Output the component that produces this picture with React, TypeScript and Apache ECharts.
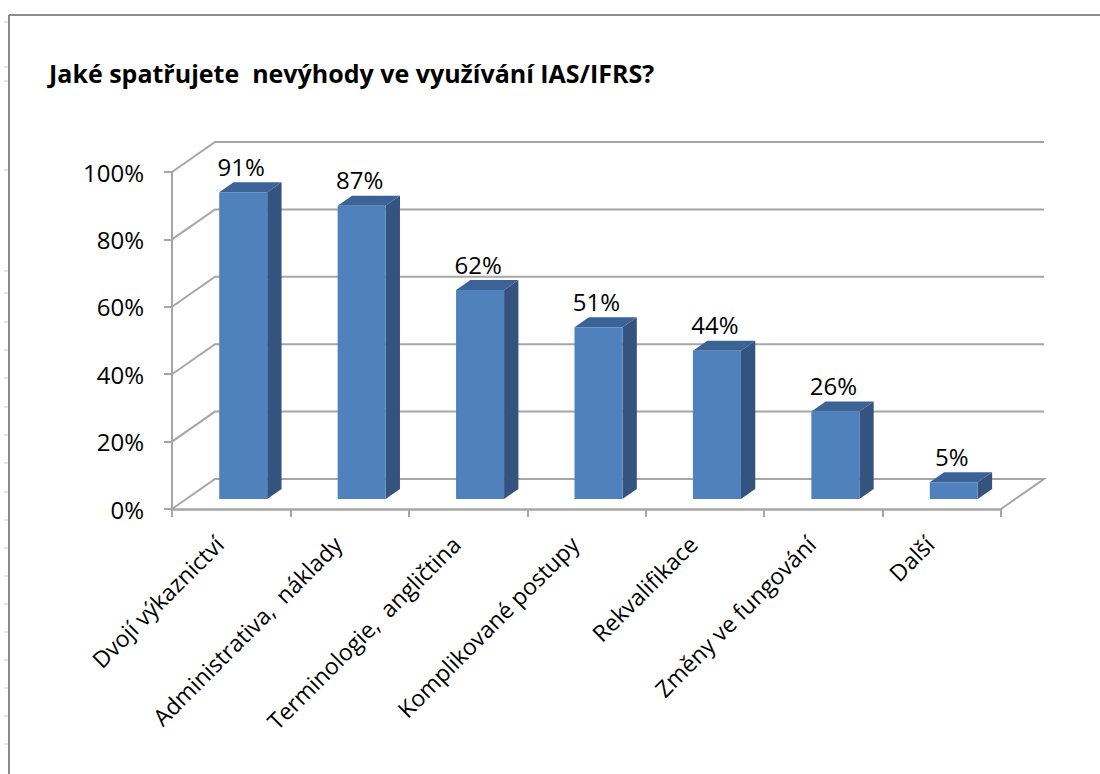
import React, { useEffect, useRef } from "react";
import * as echarts from "echarts";

const titleText = "Jaké spatřujete  nevýhody ve využívání IAS/IFRS?";
const categories = [
  "Dvojí výkaznictví",
  "Administrativa,  náklady",
  "Terminologie,  angličtina",
  "Komplikované postupy",
  "Rekvalifikace",
  "Změny ve fungování",
  "Další",
];
const values = [91, 87, 62, 51, 44, 26, 5];
const yTicks = [0, 20, 40, 60, 80, 100];

const FONT = "Open Sans";
const DEPTH_X = 43;
const DEPTH_Y = -30;
const GRID_COLOR = "#a6a6a6";

export default function App() {
  const ref = useRef<HTMLDivElement>(null);
  useEffect(() => {
    if (!ref.current) return;
    const chart = echarts.init(ref.current, undefined, { renderer: "svg" });
    const option: any = {
      animation: false,
      backgroundColor: "#ffffff",
      title: {
        text: titleText,
        left: 44,
        top: 55,
        textStyle: { fontFamily: FONT, fontWeight: "bold", fontSize: 25, color: "#000" },
      },
      grid: { left: 172, right: 99, top: 172, bottom: 265, containLabel: false },
      xAxis: {
        type: "category",
        data: categories,
        boundaryGap: true,
        axisLine: { show: true, lineStyle: { color: GRID_COLOR, width: 2.5 } },
        axisTick: { show: true, length: 8, lineStyle: { color: GRID_COLOR, width: 2 } },
        axisLabel: {
          rotate: 45,
          margin: 19,
          padding: [0, 17, 0, 0],
          interval: 0,
          fontFamily: FONT,
          fontSize: 23,
          color: "#000",
        },
        splitLine: { show: false },
      },
      yAxis: {
        type: "value",
        min: 0,
        max: 100,
        interval: 20,
        axisLine: { show: true, lineStyle: { color: GRID_COLOR, width: 2 } },
        axisTick: { show: true, length: 8, lineStyle: { color: GRID_COLOR, width: 2 } },
        axisLabel: {
          formatter: "{value}%",
          margin: 28,
          fontFamily: FONT,
          fontSize: 24,
          color: "#000",
        },
        splitLine: { show: false },
      },
      series: [
        {
          type: "custom",
          z: 1,
          silent: true,
          data: yTicks.map((v) => [0, v]),
          renderItem: (params: any, api: any) => {
            const v = api.value(1);
            const p = api.coord([0, v]);
            const cs = params.coordSys;
            const left = cs.x;
            const right = cs.x + cs.width;
            const y = p[1];
            const pts: number[][] = [
              [left, y],
              [left + DEPTH_X, y + DEPTH_Y],
              [right + DEPTH_X, y + DEPTH_Y],
            ];
            if (v === 0) pts.push([right, y]);
            return {
              type: "polyline",
              shape: { points: pts },
              style: { stroke: GRID_COLOR, lineWidth: 2, fill: "none" },
            };
          },
        },
        {
          type: "custom",
          z: 3,
          silent: true,
          data: values.map((v, i) => [i, v]),
          renderItem: (params: any, api: any) => {
            const idx = api.value(0);
            const v = api.value(1);
            const base = api.coord([idx, 0]);
            const top = api.coord([idx, v]);
            const offX = DEPTH_X / 3;
            const offY = DEPTH_Y / 3;
            const w = 48;
            const cx = base[0] + 12;
            const x0 = cx - w / 2;
            const x1 = cx + w / 2;
            const yb = base[1] + offY;
            const yt = top[1] + offY;
            return {
              type: "group",
              children: [
                {
                  type: "polygon",
                  shape: {
                    points: [
                      [x1, yb],
                      [x1, yt],
                      [x1 + offX, yt + offY],
                      [x1 + offX, yb + offY],
                    ],
                  },
                  style: { fill: "#34547f" },
                },
                {
                  type: "polygon",
                  shape: {
                    points: [
                      [x0, yt],
                      [x1, yt],
                      [x1 + offX, yt + offY],
                      [x0 + offX, yt + offY],
                    ],
                  },
                  style: { fill: "#3c6396" },
                },
                {
                  type: "rect",
                  shape: { x: x0, y: yt, width: w, height: yb - yt },
                  style: { fill: "#4f81bd" },
                },
                {
                  type: "text",
                  x: cx - 2,
                  y: yt - 14,
                  style: {
                    text: v + "%",
                    fontFamily: FONT,
                    fontSize: 24,
                    fill: "#000",
                    align: "center",
                    verticalAlign: "bottom",
                  },
                },
              ],
            };
          },
        },
      ],
      graphic: [
        {
          type: "line",
          shape: { x1: 9, y1: 15, x2: 1100, y2: 15 },
          style: { stroke: "#8c8c8c", lineWidth: 2 },
        },
        {
          type: "line",
          shape: { x1: 9, y1: 15, x2: 9, y2: 774 },
          style: { stroke: "#8c8c8c", lineWidth: 2 },
        },
        ...[22, 67, 81, 170, 271, 293, 322, 350, 378, 407, 435, 463, 492, 520, 548, 576, 604, 632, 660, 688, 716, 744].map((y) => ({
          type: "line",
          shape: { x1: 4, y1: y, x2: 8, y2: y },
          style: { stroke: "#c8ccd4", lineWidth: 1 },
        })),
      ],
    };
    chart.setOption(option);
    return () => chart.dispose();
  }, []);
  return (
    <div
      ref={ref}
      style={{ position: "fixed", left: 0, top: 0, width: 1100, height: 774 }}
    />
  );
}
